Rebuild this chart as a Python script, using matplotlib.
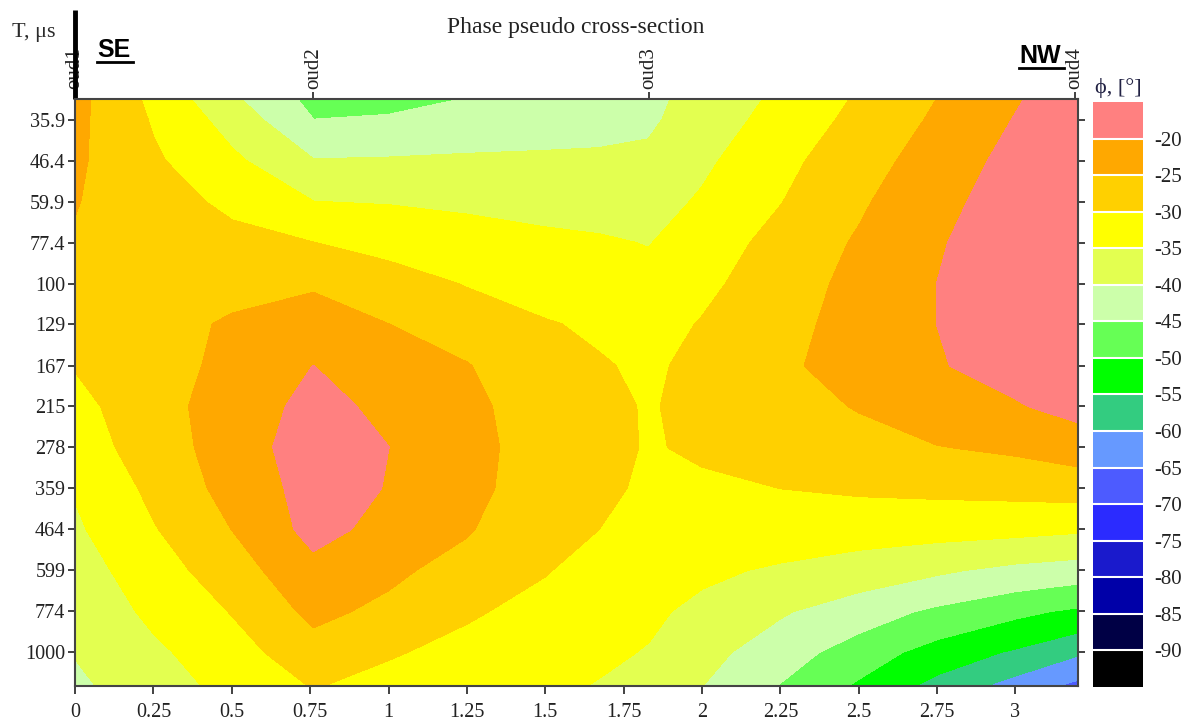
"""Phase pseudo cross-section: contour of phase (deg) vs distance and period."""
import numpy as np
import matplotlib
matplotlib.use("Agg")
import matplotlib.pyplot as plt
from matplotlib.lines import Line2D
from matplotlib.ticker import NullLocator
from matplotlib.transforms import blended_transform_factory

plt.rcParams["axes.unicode_minus"] = False
SERIF = ["Liberation Serif", "DejaVu Serif"]

dist = [0, 0.25, 0.5, 0.76, 1.0, 1.25, 1.5, 1.67, 1.83, 2.0, 2.25, 2.5, 2.75, 3.0, 3.2]
period = [31.5, 35.9, 46.4, 59.9, 77.4, 100, 129, 167, 215, 278, 359, 464, 599, 774, 1000, 1237]
phase = [
    [-23.5, -31.3, -39.2, -46.5, -47.5, -44.9, -43.5, -42.2, -41, -38.6, -34, -29.5, -25, -20.5, -17],
    [-23.8, -30.5, -37, -45, -44.2, -43.5, -42.5, -41.8, -40.8, -37.7, -33.2, -28.7, -24.3, -19.8, -17],
    [-24.2, -29.3, -34, -39.8, -39.6, -39.2, -39.1, -39.1, -39, -36, -31.4, -27.1, -22.8, -18.5, -16.5],
    [-24.8, -27.9, -31.1, -35, -35.3, -35.9, -36.5, -36.7, -37.1, -34.4, -30.2, -25.7, -21.6, -17.5, -16],
    [-25.5, -27, -28.5, -30, -31.5, -32.8, -34, -34.5, -35.2, -32.8, -28.3, -24.5, -20.5, -17, -15.5],
    [-26.5, -27, -27, -25.7, -28, -30.3, -32.4, -32.7, -33.5, -31.2, -27.3, -23.7, -20, -16.5, -15],
    [-28, -27.5, -24.2, -22.3, -25, -27.2, -29.6, -30.9, -32, -29.7, -26.5, -23.3, -20, -16, -15],
    [-29.8, -27.5, -23.5, -20, -22.5, -24.8, -28.5, -29.5, -31, -28.5, -26, -22.8, -20.3, -18.5, -15.5],
    [-31.5, -27, -22.6, -18.7, -21, -23.7, -27.8, -28.5, -30.5, -28.3, -27, -24.7, -22.5, -20.4, -18.5],
    [-32.5, -27.7, -22.6, -17.5, -20, -23.2, -27.6, -28.5, -30.4, -29.3, -27.8, -27, -25.2, -24.2, -22.7],
    [-34.7, -28.9, -23.3, -18.2, -20.2, -23.5, -27.8, -29, -30.8, -30.9, -30, -29.4, -29, -28.6, -28],
    [-35.8, -30.4, -25, -18.5, -21.5, -24.6, -28.8, -30, -31.8, -32.5, -32.7, -32.9, -33.3, -33.7, -34.4],
    [-37.2, -32.4, -27.2, -21.5, -24, -26.9, -29.8, -31.4, -33, -34.2, -35.6, -37.4, -39.3, -41.4, -42.5],
    [-38.5, -34, -29.8, -23.8, -26.2, -29.5, -31.3, -32.7, -34.2, -36.1, -39.5, -42.6, -46, -48.9, -50.9],
    [-39.8, -36, -32, -27.1, -29.6, -31.3, -32.8, -34.1, -35.3, -38.4, -42.7, -47.4, -52.1, -55.7, -59.4],
    [-41, -37.3, -33.6, -29.8, -31.5, -32.5, -34, -35.3, -36.5, -40, -45.3, -50.8, -56.7, -62.2, -66.5],
]

period_ticks = [35.9, 46.4, 59.9, 77.4, 100, 129, 167, 215, 278, 359, 464, 599, 774, 1000]
period_labels = ["35.9", "46.4", "59.9", "77.4", "100", "129", "167", "215", "278",
                 "359", "464", "599", "774", "1000"]
dist_ticks = [0, 0.25, 0.5, 0.75, 1, 1.25, 1.5, 1.75, 2, 2.25, 2.5, 2.75, 3]
dist_labels = ["0", "0.25", "0.5", "0.75", "1", "1.25", "1.5", "1.75", "2", "2.25",
               "2.5", "2.75", "3"]
stations = ["oud1", "oud2", "oud3", "oud4"]
station_x = [0, 0.76, 1.83, 3.19]

levels = list(range(-95, -14, 5))          # -95 ... -15
colors = ["#000000", "#000045", "#0000a8", "#1a1acc", "#2b2bff", "#4d5bff",
          "#6699ff", "#33cc80", "#00ff00", "#66ff55", "#ccffaa", "#e3ff50",
          "#ffff00", "#ffd000", "#ffa800", "#ff8080"]

# ── figure ───────────────────────────────────────────────────────────────
fig = plt.figure(figsize=(11.99, 7.25), dpi=100)
ax = fig.add_axes([0.0626, 0.0538, 0.8366, 0.8097])

X, Y = np.meshgrid(dist, period)
cf = ax.contourf(X, Y, np.array(phase), levels=levels, colors=colors)
cf.set_edgecolor("face")

ax.set_yscale("log")
ax.set_ylim(period[-1], period[0])
ax.set_xlim(0, 3.2)
ax.set_yticks(period_ticks)
ax.set_yticklabels(period_labels)
ax.yaxis.set_minor_locator(NullLocator())
ax.set_xticks(dist_ticks)
ax.set_xticklabels(dist_labels)
ax.tick_params(axis="both", direction="out", length=5, width=1.3, colors="#333333",
               labelcolor="#222222", labelsize=14.5)
ax.tick_params(axis="y", right=True, pad=2)
ax.tick_params(axis="x", length=6, pad=6)
for lbl in ax.get_xticklabels() + ax.get_yticklabels():
    lbl.set_family(SERIF)
for sp in ax.spines.values():
    sp.set_color("#444444")
    sp.set_linewidth(1.5)

# stations along the top
top = ax.secondary_xaxis("top")
top.set_xticks(station_x)
top.set_xticklabels(stations, rotation=90, family=SERIF, fontsize=15, color="#222222")
top.tick_params(length=5, width=1.3, colors="#333333", labelcolor="#222222", pad=2)
top.spines["top"].set_visible(False)
trans = blended_transform_factory(ax.transData, ax.transAxes)
ax.plot([0, 0], [1.0, 1.152], transform=trans, color="black", lw=3.5, clip_on=False,
        solid_capstyle="butt")

# colour scale
cax = fig.add_axes([0.9116, 0.0524, 0.0417, 0.807])
cb = fig.colorbar(cf, cax=cax, ticks=levels[1:-1], drawedges=True)
cb.outline.set_visible(False)
cb.dividers.set_color("white")
cb.dividers.set_linewidth(1.5)
cax.tick_params(length=0, pad=8, labelsize=15, labelcolor="#222222")
for lbl in cax.get_yticklabels():
    lbl.set_family(SERIF)

# texts
fig.text(0.48, 0.962, "Phase pseudo cross-section", ha="center", va="center",
         family=SERIF, fontsize=17, color="#222222")
fig.text(0.01, 0.949, "T, μs", ha="left", va="baseline", family=SERIF, fontsize=16,
         color="#2b2b2b")
fig.text(0.933, 0.879, "ϕ, [°]", ha="center", va="center", family=SERIF, fontsize=16,
         color="#222244")
fig.text(0.0809, 0.9214, "SE", ha="left", va="baseline", family="Liberation Sans",
         fontweight="bold", fontsize=18)
fig.text(0.8499, 0.9131, "NW", ha="left", va="baseline", family="Liberation Sans",
         fontweight="bold", fontsize=18)
fig.add_artist(Line2D([0.0809, 0.1109], [0.9150, 0.9150], transform=fig.transFigure,
                      color="black", lw=2))
fig.add_artist(Line2D([0.8499, 0.8874], [0.9066, 0.9066], transform=fig.transFigure,
                      color="black", lw=2))

fig.savefig("out.png", dpi=100)
plt.close(fig)
